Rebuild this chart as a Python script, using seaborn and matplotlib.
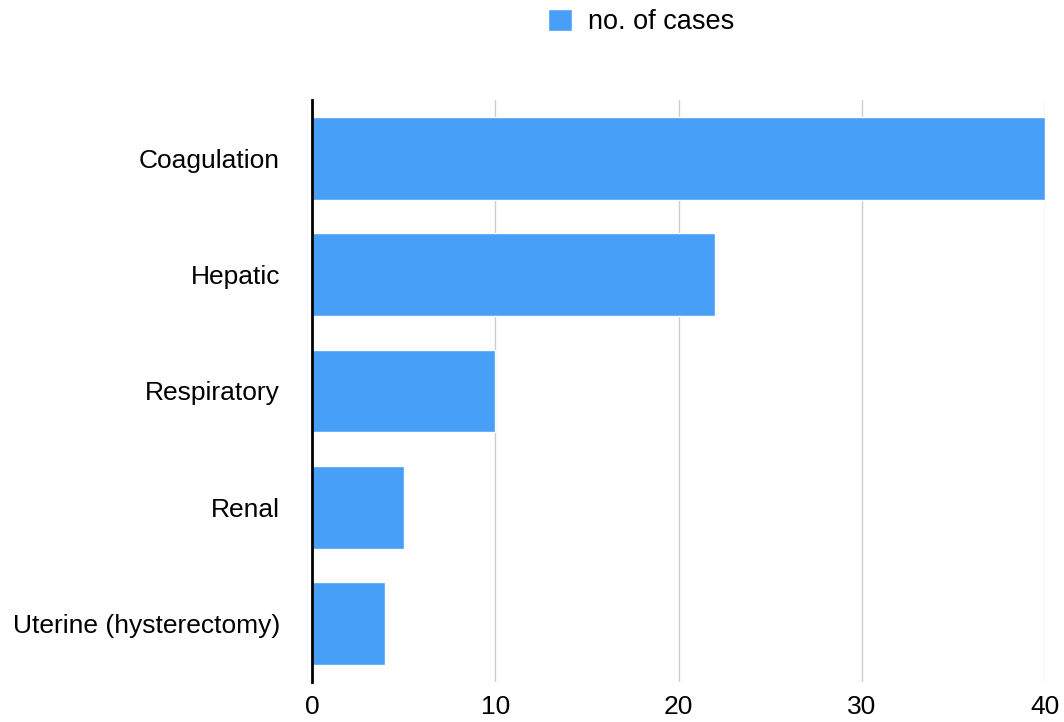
import matplotlib
matplotlib.use("Agg")
import matplotlib.pyplot as plt
import seaborn as sns
import pandas as pd

categories = ["Coagulation", "Hepatic", "Respiratory", "Renal", "Uterine (hysterectomy)"]
cases = [40, 22, 10, 5, 4]
series_name = "no. of cases"
x_ticks = [0, 10, 20, 30, 40]

sns.set_theme(style="white")
plt.rcParams["font.family"] = ["Liberation Sans", "DejaVu Sans"]
plt.rcParams["text.color"] = "black"

df = pd.DataFrame({"category": categories, "cases": cases, "series": series_name})

fig = plt.figure(figsize=(10.64, 7.22), dpi=100)
ax = fig.add_axes([312 / 1064, 40 / 722, 733 / 1064, 582 / 722])

bar_color = "#479ff8"
sns.barplot(data=df, x="cases", y="category", hue="series", orient="h",
            palette=[bar_color], width=0.71, dodge=False, ax=ax, zorder=3,
            saturation=1)

ax.set_xlim(0, 40)
ax.set_xticks(x_ticks)
ax.set_xticklabels([str(t) for t in x_ticks])
ax.set_ylim(len(categories) - 0.5, -0.5)
ax.set_xlabel("")
ax.set_ylabel("")
ax.grid(axis="x", color="#cccccc", linewidth=1.0, zorder=0)
ax.grid(axis="y", visible=False)
ax.set_axisbelow(True)
for side in ["top", "right", "bottom"]:
    ax.spines[side].set_visible(False)
ax.spines["left"].set_color("black")
ax.spines["left"].set_linewidth(2.0)
ax.spines["left"].set_zorder(5)
ax.tick_params(axis="both", length=0, labelsize=19, colors="black")
ax.tick_params(axis="x", pad=9)
ax.tick_params(axis="y", pad=23)

sns.move_legend(ax, "center", bbox_to_anchor=(641 / 1064, 1 - 22 / 722),
                bbox_transform=fig.transFigure, frameon=False, title=None,
                fontsize=19.5, handlelength=0.9, handleheight=0.9,
                handletextpad=0.6)
for txt in ax.get_legend().get_texts():
    txt.set_color("black")

fig.savefig("out.png", dpi=100, facecolor="white")
